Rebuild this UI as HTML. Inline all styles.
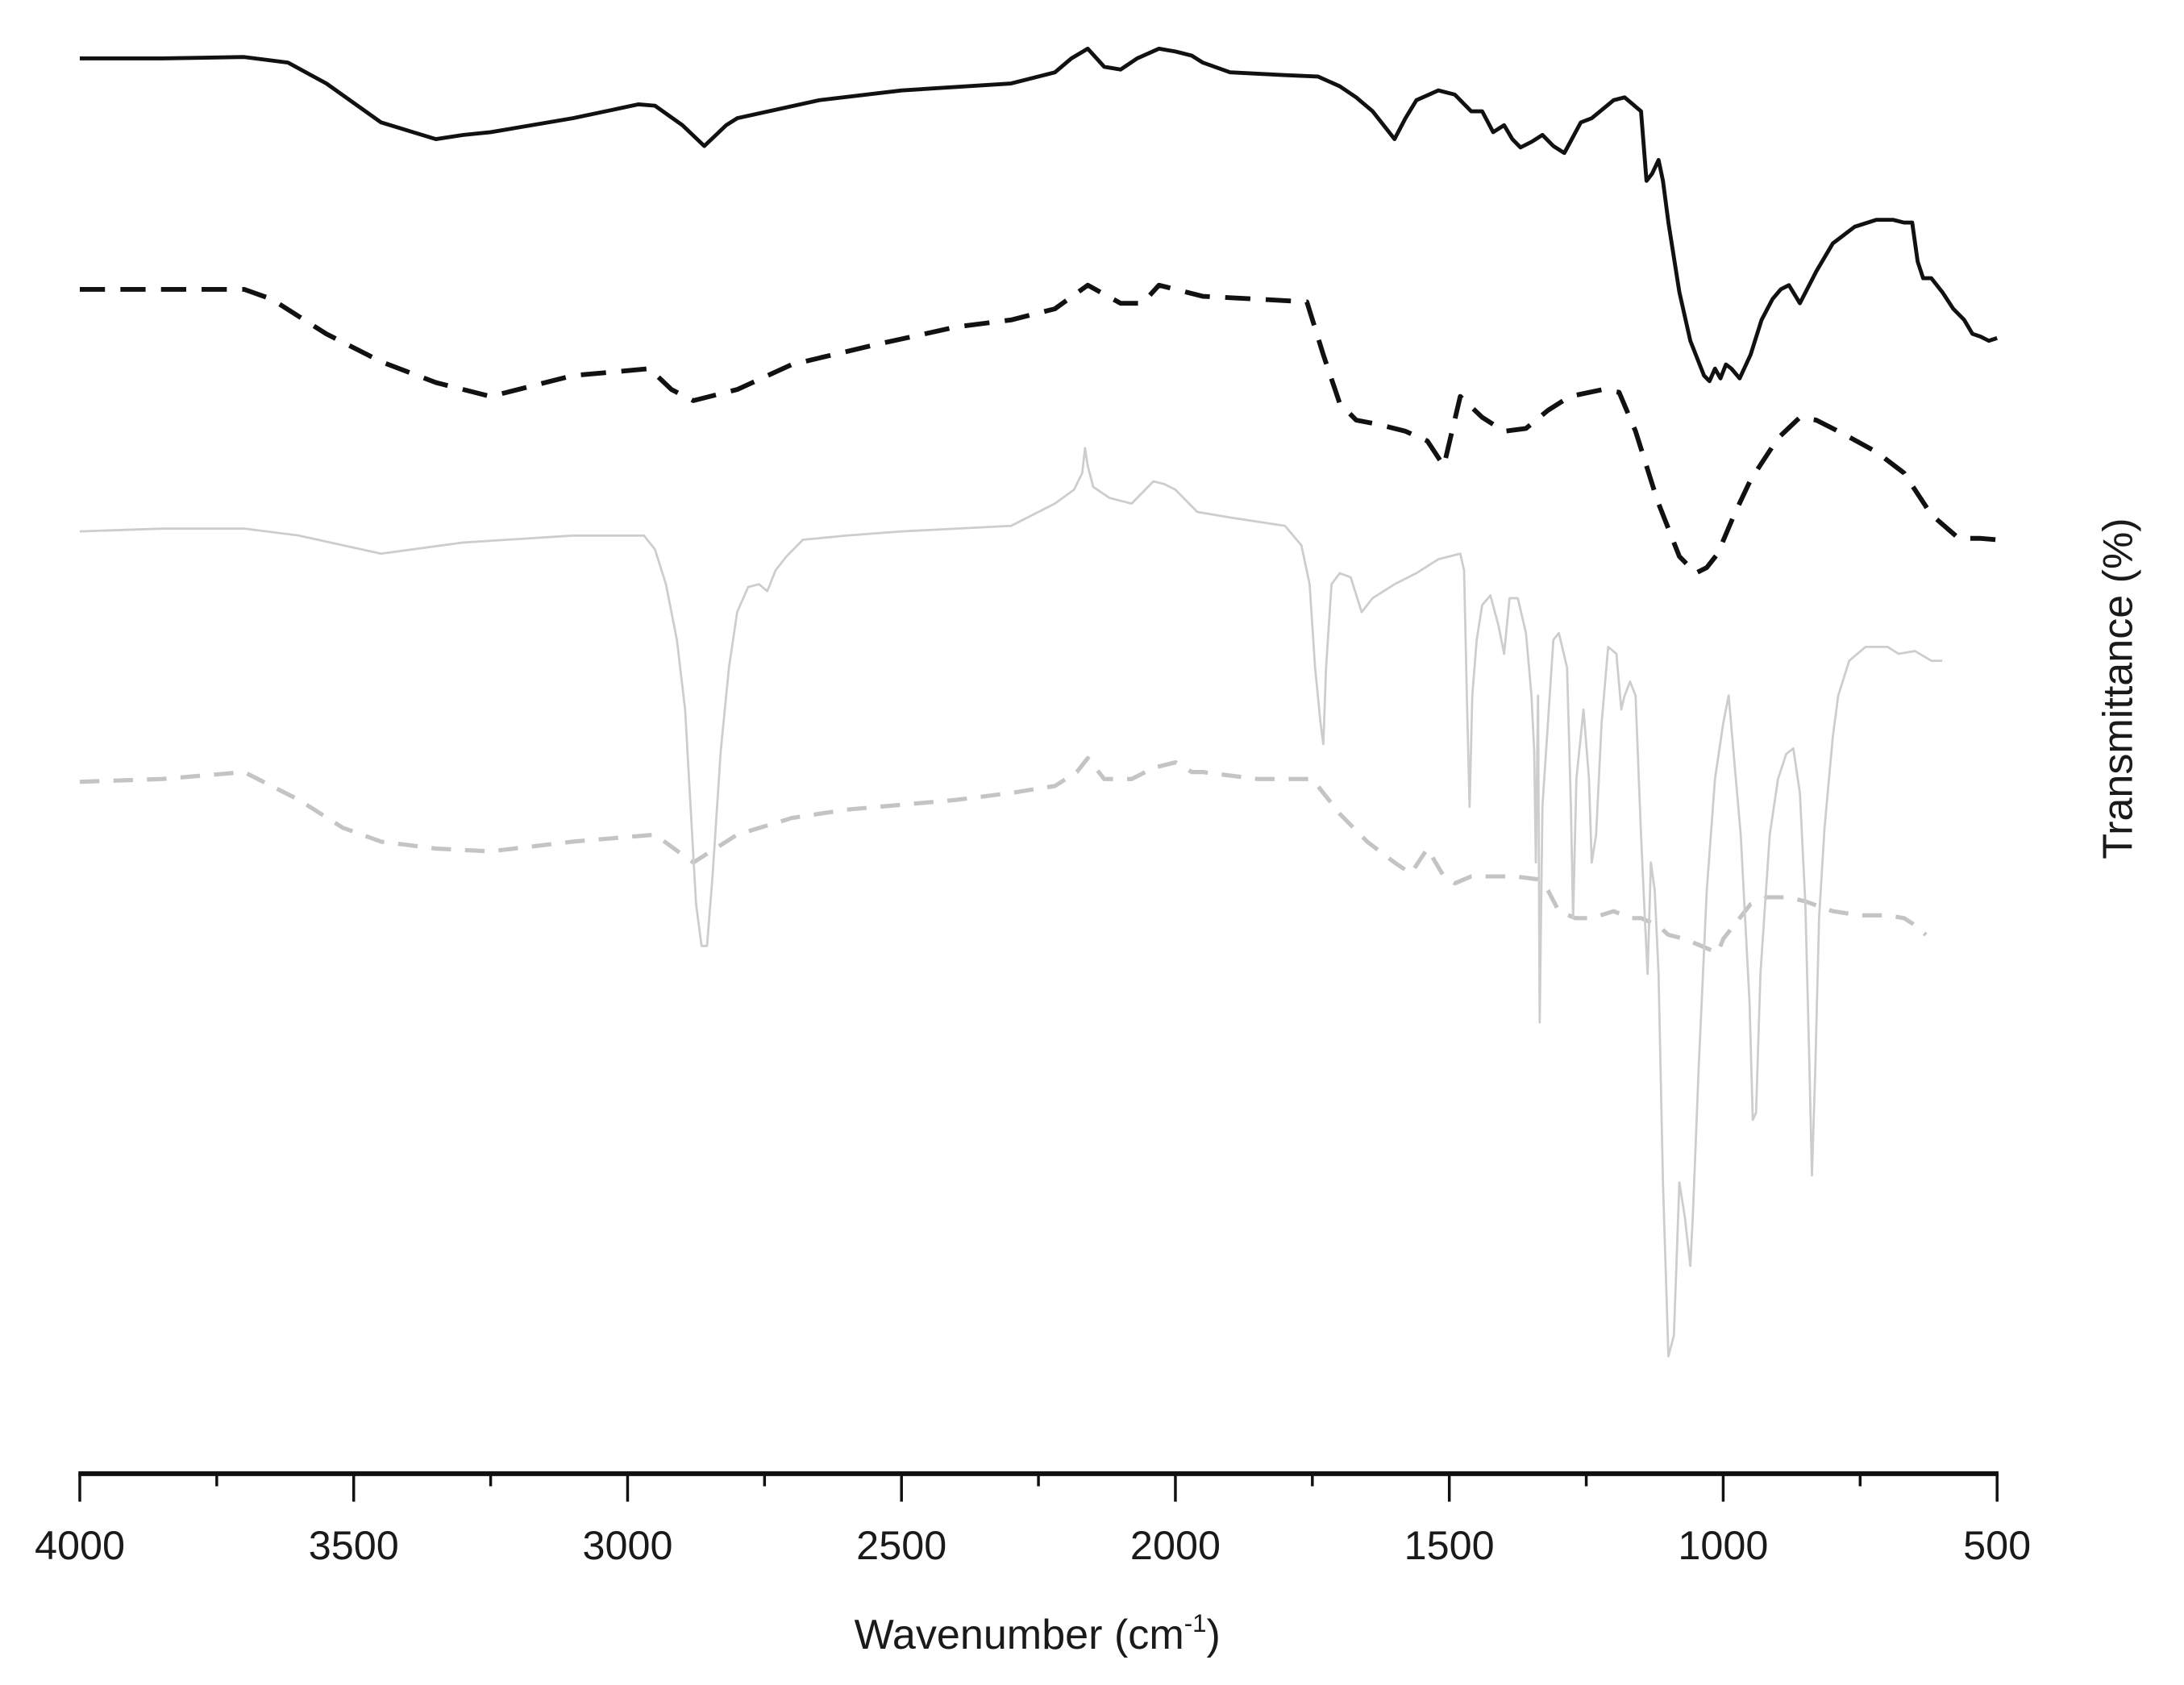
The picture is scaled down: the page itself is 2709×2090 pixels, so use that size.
<!DOCTYPE html>
<html><head><meta charset="utf-8"><style>
html,body{margin:0;padding:0;background:#fff;}
svg{display:block;}
text{font-family:"Liberation Sans",Arial,sans-serif;fill:#1a1a1a;}
</style></head><body>
<svg id="chart" width="2709" height="2090" viewBox="0 0 1560 1204" preserveAspectRatio="none" xmlns="http://www.w3.org/2000/svg">
<g id="series"></g>
<g id="axis"></g>
<text x="741" y="1178" font-size="30" text-anchor="middle">Wavenumber (cm<tspan font-size="18" dy="-12">-1</tspan><tspan dy="12">)</tspan></text>
<text transform="translate(1523,492) rotate(-90)" font-size="30" text-anchor="middle">Transmittance (%)</text>
</svg>
<script>
const xTicks = [4000,3500,3000,2500,2000,1500,1000,500];
const xMinorTicks = [3750,3250,2750,2250,1750,1250,750];

const s1Wn = [4000,3850,3700,3620,3550,3450,3400,3350,3300,3250,3100,2980,2950,2900,2860,2820,2800,2650,2500,2300,2220,2190,2160,2130,2100,2070,2030,2000,1970,1950,1900,1800,1740,1700,1670,1640,1600,1580,1560,1520,1490,1460,1440,1420,1400,1385,1370,1350,1330,1310,1290,1260,1240,1200,1180,1165,1150,1140,1130,1118,1110,1100,1080,1060,1045,1035,1025,1015,1005,995,985,970,950,930,910,895,880,860,830,800,760,720,690,670,655,645,635,620,600,580,560,545,530,515,500];
const s1T = [1058,1058,1059,1055,1040,1012,1006,1000,1003,1005,1015,1025,1024,1010,995,1010,1015,1028,1035,1040,1048,1058,1065,1052,1050,1058,1065,1063,1060,1055,1048,1046,1045,1038,1030,1020,1000,1015,1028,1035,1032,1020,1020,1005,1010,1000,994,998,1003,995,990,1012,1015,1028,1030,1025,1020,970,975,985,970,940,890,855,840,830,826,835,828,838,835,828,845,870,885,892,895,882,905,925,937,942,942,940,940,912,900,900,890,878,870,860,858,855,857];

const s2Wn = [4000,3850,3700,3650,3550,3450,3350,3250,3100,2960,2920,2880,2800,2700,2550,2400,2300,2220,2160,2100,2060,2030,1950,1850,1760,1730,1700,1670,1630,1580,1540,1510,1480,1440,1400,1360,1320,1280,1220,1190,1160,1120,1080,1050,1030,1010,980,950,900,860,830,780,720,670,620,570,530,500];
const s2T = [892,892,892,885,860,840,825,815,830,835,820,812,820,838,852,865,870,878,895,882,882,895,887,885,883,845,810,798,795,790,783,765,815,800,790,792,805,815,820,818,790,740,700,688,692,702,730,755,785,800,798,788,775,760,730,713,713,712];

const s3Wn = [4000,3850,3700,3600,3450,3300,3100,2970,2950,2930,2910,2895,2885,2875,2865,2855,2845,2830,2815,2800,2780,2760,2745,2730,2710,2680,2600,2500,2300,2220,2185,2170,2165,2160,2150,2120,2080,2040,2020,2000,1960,1900,1800,1770,1755,1745,1735,1730,1725,1715,1700,1680,1660,1640,1600,1560,1520,1480,1473,1468,1463,1458,1450,1440,1425,1410,1400,1390,1375,1360,1350,1345,1342,1338,1335,1330,1320,1310,1300,1285,1278,1274,1268,1255,1245,1240,1232,1222,1210,1195,1186,1180,1170,1160,1150,1143,1138,1132,1125,1118,1110,1100,1090,1080,1070,1060,1055,1045,1030,1015,1000,990,978,968,960,952,946,940,932,915,900,885,872,860,850,843,838,832,825,815,800,790,770,740,700,680,650,620,600];
const s3T = [718,720,720,715,702,710,715,715,705,680,640,590,520,450,420,420,470,560,620,660,678,680,675,690,700,712,715,718,722,738,748,760,778,765,750,742,738,754,752,748,732,728,722,708,680,620,580,565,620,680,688,685,660,670,680,688,698,702,690,600,520,600,640,665,672,650,630,670,670,645,600,560,480,600,365,520,580,640,645,620,520,440,540,590,540,480,500,580,635,630,590,600,610,600,500,440,400,480,460,400,250,125,140,250,225,190,230,330,460,540,580,600,545,500,440,380,295,300,400,500,540,558,562,530,450,340,255,330,440,505,570,600,625,635,635,630,632,625,625];

const s4Wn = [4000,3850,3700,3600,3520,3450,3350,3250,3100,2950,2880,2800,2700,2600,2400,2300,2220,2180,2160,2130,2080,2040,2000,1970,1950,1850,1800,1750,1700,1650,1600,1570,1540,1510,1490,1460,1420,1380,1340,1320,1300,1270,1240,1200,1170,1150,1120,1100,1070,1040,1010,1000,990,970,950,920,880,850,800,750,700,670,650,630];
const s4T = [538,540,545,525,505,495,490,488,495,500,480,500,512,518,525,530,535,545,555,540,540,548,552,545,545,540,540,540,515,495,480,472,490,470,465,470,470,470,468,460,445,440,440,445,440,440,435,428,425,420,415,425,430,440,450,455,455,452,445,442,442,440,435,428];

const NS = 'http://www.w3.org/2000/svg';
const X0 = 57, X1 = 1426.5, AXIS_Y = 1053;
function xScale(w){ return X0 + (4000 - w) / 3500 * (X1 - X0); }
function yScale(t){ return (1100 - t) * 0.994; }

const seriesG = document.getElementById('series');
const axisG = document.getElementById('axis');

function drawSeries(wn, t, name, stroke, width, dash){
  const p = document.createElementNS(NS, 'path');
  let d = '';
  for (let i = 0; i < wn.length; i++) {
    d += (i ? 'L' : 'M') + xScale(wn[i]).toFixed(2) + ' ' + yScale(t[i]).toFixed(2) + ' ';
  }
  p.setAttribute('d', d);
  p.setAttribute('fill', 'none');
  p.setAttribute('stroke', stroke);
  p.setAttribute('stroke-width', width);
  p.setAttribute('stroke-linejoin', 'round');
  if (dash) p.setAttribute('stroke-dasharray', dash);
  
  
  seriesG.appendChild(p);
}
drawSeries(s4Wn, s4T, 'series-gray-dashed', '#c4c4c4', 3, '14 10');
drawSeries(s3Wn, s3T, 'series-gray-solid', '#cdcdcd', 1.6, null);
drawSeries(s2Wn, s2T, 'series-black-dashed', '#111', 3.4, '18 11');
drawSeries(s1Wn, s1T, 'series-black-solid', '#111', 2.8, null);

const axisLine = document.createElementNS(NS, 'line');
axisLine.setAttribute('x1', X0 - 1); axisLine.setAttribute('x2', X1 + 1);
axisLine.setAttribute('y1', AXIS_Y); axisLine.setAttribute('y2', AXIS_Y);
axisLine.setAttribute('stroke', '#111'); axisLine.setAttribute('stroke-width', 3.5);


axisG.appendChild(axisLine);

xTicks.forEach(function(w){
  const l = document.createElementNS(NS, 'line');
  l.setAttribute('x1', xScale(w)); l.setAttribute('x2', xScale(w));
  l.setAttribute('y1', AXIS_Y); l.setAttribute('y2', AXIS_Y + 20);
  l.setAttribute('stroke', '#111'); l.setAttribute('stroke-width', 2);
  
  
  axisG.appendChild(l);
  const tx = document.createElementNS(NS, 'text');
  tx.setAttribute('x', xScale(w)); tx.setAttribute('y', AXIS_Y + 61);
  tx.setAttribute('font-size', '29'); tx.setAttribute('text-anchor', 'middle');
  tx.textContent = String(w);
  
  
  axisG.appendChild(tx);
});
xMinorTicks.forEach(function(w){
  const l = document.createElementNS(NS, 'line');
  l.setAttribute('x1', xScale(w)); l.setAttribute('x2', xScale(w));
  l.setAttribute('y1', AXIS_Y); l.setAttribute('y2', AXIS_Y + 9);
  l.setAttribute('stroke', '#111'); l.setAttribute('stroke-width', 2);
  
  
  axisG.appendChild(l);
});
</script>
</body></html>
